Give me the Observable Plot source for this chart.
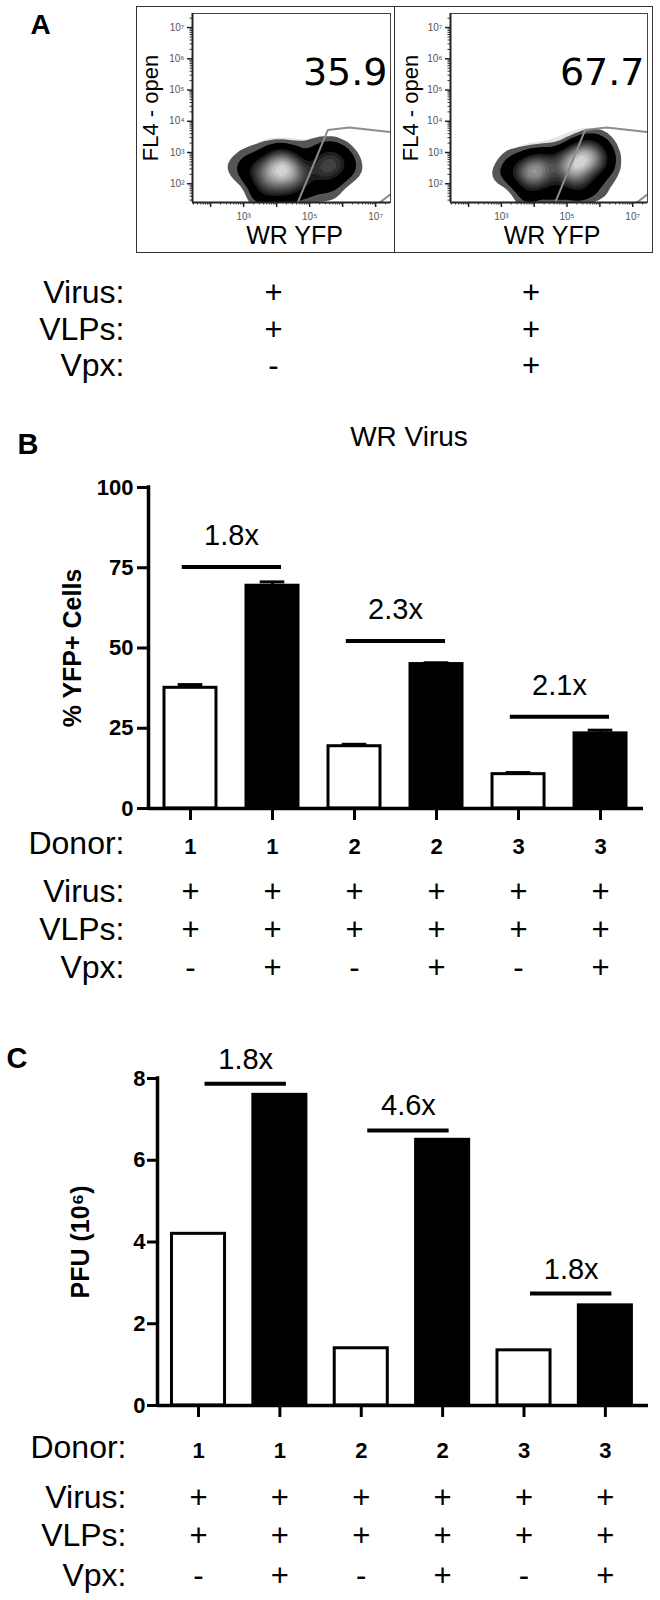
<!DOCTYPE html>
<html><head><meta charset="utf-8">
<script src="https://cdn.jsdelivr.net/npm/d3@7"></script>
<script src="https://cdn.jsdelivr.net/npm/@observablehq/plot@0.6"></script>
<style>
body{margin:0;background:#fff;}
#fig{position:relative;width:660px;height:1600px;overflow:hidden;background:#fff;}
#fig > svg{position:absolute;}
.box{position:absolute;border:1.5px solid #333;box-sizing:border-box;pointer-events:none;}
</style></head><body><div id="fig"></div>
<script>
// ---------------- data ----------------
// Panel A: flow cytometry (log10 coordinates of the cell cloud, relative weight)
const flowPercents = ["35.9", "67.7"];
const flowVirus = ["+", "+"];
const flowVLPs = ["+", "+"];
const flowVpx = ["-", "+"];
const decadeTicks = [1e2, 1e3, 1e4, 1e5, 1e6, 1e7];
const xLabelTicks = [1e3, 1e5, 1e7];
const gateLog = [[4.6, 1.3], [5.55, 3.72], [6.2, 3.8], [7.5, 3.65]];
const gateCornerLog = [[7.0, 1.3], [7.5, 1.7]];
const cloudNoVpx = [
  [3.6, 2.5, 2], [4.0, 2.6, 3], [4.3, 2.4, 3], [3.9, 2.2, 2.5], [4.5, 2.7, 2], [3.3, 2.3, 1.2],
  [4.1, 2.9, 1.5], [3.7, 1.9, 1.5], [4.4, 2.0, 2], [3.1, 2.6, 0.7], [4.7, 2.3, 1.5],
  [3.5, 1.6, 1], [4.2, 1.6, 1.2], [4.9, 1.7, 0.8], [5.6, 1.7, 0.6],
  [2.7, 2.4, 0.35], [2.4, 2.7, 0.2], [3.0, 3.1, 0.25], [3.5, 3.3, 0.3],
  [5.4, 2.5, 1.5], [5.7, 2.7, 1.6], [6.0, 2.5, 1.1], [5.6, 2.2, 1.2], [5.9, 3.0, 0.8],
  [5.2, 2.8, 1], [6.3, 2.7, 0.45], [5.5, 3.2, 0.6], [5.0, 2.2, 1], [6.5, 2.3, 0.2], [4.9, 3.4, 0.3]
];
const cloudVpx = [
  [3.7, 2.5, 1.5], [4.0, 2.4, 2], [4.3, 2.6, 1.5], [3.9, 2.1, 1.5], [3.4, 2.3, 0.8], [4.4, 2.2, 1.2],
  [4.1, 2.8, 0.8], [3.1, 2.5, 0.4], [2.8, 2.2, 0.25], [3.3, 3.0, 0.3],
  [3.8, 1.6, 0.9], [4.6, 1.7, 0.9], [5.3, 1.7, 1], [6.0, 1.8, 0.5],
  [5.1, 2.7, 2], [5.4, 2.9, 2.5], [5.7, 2.8, 2.2], [5.3, 2.4, 2], [5.6, 3.2, 1.2], [5.9, 2.6, 1.5],
  [6.1, 3.1, 0.7], [4.8, 2.8, 1.2], [5.0, 2.3, 1.5], [6.3, 2.8, 0.45], [5.5, 2.1, 1.2], [6.0, 3.5, 0.3], [6.4, 2.3, 0.25]
];
const rowNames = ["Virus:", "VLPs:", "Vpx:"];

// Panels B and C
const donors = [1, 1, 2, 2, 3, 3];
const virusRow = ["+", "+", "+", "+", "+", "+"];
const vlpRow = ["+", "+", "+", "+", "+", "+"];
const vpxRow = ["-", "+", "-", "+", "-", "+"];
const yfpPct = [37.6, 69.4, 19.4, 45.0, 10.7, 23.4];
const yfpSem = [1.0, 1.2, 0.6, 0.4, 0.5, 1.0];
const yfpTicks = [0, 25, 50, 75, 100];
const foldPairs = [[0, 1], [2, 3], [4, 5]];
const yfpFoldLabels = ["1.8x", "2.3x", "2.1x"];
const yfpFoldLevels = [75.2, 52.2, 28.6];
const pfu = [4.2, 7.6, 1.4, 6.5, 1.35, 2.45];
const pfuTicks = [0, 2, 4, 6, 8];
const pfuFoldLabels = ["1.8x", "4.6x", "1.8x"];
const pfuFoldLevels = [7.87, 6.73, 2.74];

// ---------------- drawing ----------------
const FONT = '"Liberation Sans", Arial, Helvetica, sans-serif';
const SUP = "⁰¹²³⁴⁵⁶⁷⁸⁹";
const pow10 = v => "10" + String(Math.round(Math.log10(v))).split("").map(c => SUP[+c]).join("");
const fig = document.getElementById("fig");
const baseStyle = {fontFamily: FONT, color: "#000", background: "transparent", overflow: "visible"};

function place(svg, left, top) {
  svg.style.left = left + "px";
  svg.style.top = top + "px";
  fig.appendChild(svg);
}

function flowPanel(k, left, width, ml, mr) {
  const H = 392, mt = 13, mb = 190;
  const cloud = (k === 0 ? cloudNoVpx : cloudVpx).map(([lx, ly, w]) => ({x: 10 ** lx, y: 10 ** ly, w}));
  const gate = gateLog.map(([lx, ly]) => ({x: 10 ** lx, y: 10 ** ly}));
  const corner = gateCornerLog.map(([lx, ly]) => ({x: 10 ** lx, y: 10 ** ly}));
  const xd = [10 ** 1.45, 10 ** 7.45], yd = [10 ** 1.4, 10 ** 7.45];
  const minor = [];
  for (let e = 1; e <= 7; e++) for (let m = 2; m <= 9; m++) {
    const v = m * 10 ** e;
    if (v > yd[0] && v < xd[1]) minor.push(v);
  }
  const marks = [];
  if (Plot.density) {
    marks.push(Plot.density(cloud, {x: "x", y: "y", weight: "w", bandwidth: 13, thresholds: 6, fill: "#000", fillOpacity: 0.1, clip: true}));
    marks.push(Plot.density(cloud, {x: "x", y: "y", weight: "w", bandwidth: 8, thresholds: 16, fill: "density", clip: true}));
  } else {
    marks.push(Plot.dot(cloud, {x: "x", y: "y", r: d => 4 + d.w * 3, fill: "#222", fillOpacity: 0.5}));
  }
  marks.push(
    Plot.line(gate, {x: "x", y: "y", stroke: "#8c8c8c", strokeWidth: 2, clip: true}),
    Plot.line(corner, {x: "x", y: "y", stroke: "#8c8c8c", strokeWidth: 2, clip: true}),
    Plot.frame({stroke: "#444", strokeWidth: 1}),
    Plot.ruleX([xd[0]], {stroke: "#222", strokeWidth: 2}),
    Plot.ruleY([yd[0]], {stroke: "#222", strokeWidth: 2}),
    Plot.axisY(minor, {tickSize: 2.5, stroke: "#333", fill: "none"}),
    Plot.axisY(decadeTicks, {tickSize: 5, tickPadding: 3, stroke: "#222", strokeWidth: 1.5, fill: "#555", fontSize: 10, tickFormat: pow10}),
    Plot.axisX(minor, {tickSize: 2.5, stroke: "#333", fill: "none"}),
    Plot.axisX(decadeTicks, {tickSize: 5, stroke: "#222", strokeWidth: 1.5, fill: "none"}),
    Plot.axisX(xLabelTicks, {tickSize: 0, tickPadding: 10, fill: "#555", fontSize: 10, tickFormat: pow10}),
    Plot.text([flowPercents[k]], {frameAnchor: "top-right", textAnchor: "end", lineAnchor: "bottom", dx: -3, dy: 71, fontSize: 38, fontFamily: '"DejaVu Sans", sans-serif'}),
    Plot.text(["WR YFP"], {frameAnchor: "bottom", lineAnchor: "bottom", dy: 41, dx: 3, fontSize: 25}),
    Plot.text(["FL4 - open"], {frameAnchor: "left", rotate: -90, dx: k === 0 ? -42 : -40, fontSize: 22, textAnchor: "middle", lineAnchor: "middle"})
  );
  const rowVals = [flowVirus, flowVLPs, flowVpx];
  const rowDy = [100, 137, 173];
  rowVals.forEach((vals, r) => {
    marks.push(Plot.text([vals[k]], {frameAnchor: "bottom", lineAnchor: "bottom", dx: -18, dy: rowDy[r], fontSize: 31}));
    if (k === 0) marks.push(Plot.text([rowNames[r]], {frameAnchor: "bottom-left", textAnchor: "end", lineAnchor: "bottom", dx: -68, dy: rowDy[r], fontSize: 32}));
  });
  if (k === 0) marks.push(Plot.text(["A"], {frameAnchor: "top-left", textAnchor: "start", lineAnchor: "bottom", dx: -162, dy: 20, fontSize: 28, fontWeight: "bold"}));
  const svg = Plot.plot({
    width, height: H, marginLeft: ml, marginRight: mr, marginTop: mt, marginBottom: mb,
    x: {type: "log", domain: xd, label: null},
    y: {type: "log", domain: yd, label: null},
    color: {type: "linear", interpolate: t => t < 0.08 ? "#555" : t < 0.3 ? "#000" : d3.interpolateRgb("#141414", "#d2d2d2")((t - 0.3) / 0.7)},
    style: baseStyle,
    marks
  });
  place(svg, left, 0);
}

function barPanel(cfg) {
  const rows = donors.map((d, i) => ({i, donor: d, value: cfg.values[i], sem: cfg.sem ? cfg.sem[i] : 0,
    virus: virusRow[i], vlp: vlpRow[i], vpx: vpxRow[i]}));
  const folds = foldPairs.map(([a, b], j) => ({a, b, label: cfg.foldLabels[j], level: cfg.foldLevels[j]}));
  const h = cfg.barHalf;
  const marks = [];
  if (cfg.sem) {
    marks.push(
      Plot.ruleX(rows, {x: "i", y1: "value", y2: d => d.value + d.sem, strokeWidth: 3}),
      Plot.ruleY(rows, {y: d => d.value + d.sem, x1: d => d.i - 0.15, x2: d => d.i + 0.15, strokeWidth: 3})
    );
  }
  marks.push(
    Plot.rect(rows.filter(d => d.vpx === "-"), {x1: d => d.i - h, x2: d => d.i + h, y1: 0, y2: "value", fill: "#fff", stroke: "#000", strokeWidth: 3}),
    Plot.rect(rows.filter(d => d.vpx === "+"), {x1: d => d.i - h, x2: d => d.i + h, y1: 0, y2: "value", fill: "#000", stroke: "#000", strokeWidth: 3}),
    Plot.ruleX([cfg.xDomain[0]], {y1: cfg.yDomain[0], y2: cfg.yDomain[1], strokeWidth: 3.5, strokeLinecap: "square"}),
    Plot.ruleY([0], {strokeWidth: 3.5}),
    Plot.axisY(cfg.ticks, {tickSize: cfg.tickSize, tickPadding: cfg.tickPadding, strokeWidth: 3, fontSize: 22, fontWeight: "bold", color: "#000"}),
    Plot.axisX(rows.map(d => d.i), {tickSize: 12, strokeWidth: 3, stroke: "#000", fill: "none"}),
    Plot.ruleY(folds, {y: "level", x1: d => d.a + cfg.foldOff[0], x2: d => d.b + cfg.foldOff[1], strokeWidth: 4}),
    Plot.text(folds, {x: d => (d.a + d.b) / 2 + cfg.foldOff[2], y: "level", text: "label", dy: cfg.foldDy, lineAnchor: "bottom", fontSize: 29}),
    Plot.text([cfg.yTitle], {frameAnchor: "left", rotate: -90, dx: cfg.yTitleDx, fontSize: 25, fontWeight: "bold", textAnchor: "middle", lineAnchor: "middle"}),
    Plot.text([cfg.letter], {frameAnchor: "top-left", textAnchor: "start", lineAnchor: "bottom", dx: cfg.letterPos[0], dy: cfg.letterPos[1], fontSize: 29, fontWeight: "bold"}),
    Plot.text(rows, {x: "i", text: d => String(d.donor), frameAnchor: "bottom", lineAnchor: "bottom", dy: cfg.rowDy[0], fontSize: 22, fontWeight: "bold"}),
    Plot.text(rows, {x: "i", text: "virus", frameAnchor: "bottom", lineAnchor: "bottom", dy: cfg.rowDy[1], fontSize: 31}),
    Plot.text(rows, {x: "i", text: "vlp", frameAnchor: "bottom", lineAnchor: "bottom", dy: cfg.rowDy[2], fontSize: 31}),
    Plot.text(rows, {x: "i", text: "vpx", frameAnchor: "bottom", lineAnchor: "bottom", dy: cfg.rowDy[3], fontSize: 31})
  );
  ["Donor:", ...rowNames].forEach((name, r) => {
    marks.push(Plot.text([name], {frameAnchor: "bottom-left", textAnchor: "end", lineAnchor: "bottom", dx: cfg.rowLabelDx, dy: cfg.rowDy[r], fontSize: 32}));
  });
  if (cfg.title) marks.push(Plot.text([cfg.title], {frameAnchor: "top", lineAnchor: "bottom", dx: cfg.titlePos[0], dy: cfg.titlePos[1], fontSize: 28}));
  const svg = Plot.plot({
    width: 660, height: cfg.height,
    marginLeft: cfg.m[0], marginRight: cfg.m[1], marginTop: cfg.m[2], marginBottom: cfg.m[3],
    x: {domain: cfg.xDomain, label: null},
    y: {domain: cfg.yDomain, label: null},
    style: baseStyle,
    marks
  });
  place(svg, 0, cfg.top);
}

flowPanel(0, 0, 395, 192, 5);
flowPanel(1, 395, 265, 55, 13);
for (const [l, w] of [[136, 259], [394, 259]]) {
  const b = document.createElement("div");
  b.className = "box";
  Object.assign(b.style, {left: l + "px", top: "6px", width: w + "px", height: "247px"});
  fig.appendChild(b);
}

barPanel({
  top: 400, height: 590, m: [148, 17, 87, 182],
  xDomain: [-0.512, 5.524], yDomain: [0, 100],
  values: yfpPct, sem: yfpSem, ticks: yfpTicks, tickSize: 11, tickPadding: 4,
  barHalf: 0.317, foldLabels: yfpFoldLabels, foldLevels: yfpFoldLevels,
  foldOff: [-0.1, 0.11, 0], foldDy: -22,
  yTitle: "% YFP+ Cells", yTitleDx: -76,
  letter: "B", letterPos: [-131, -34],
  title: "WR Virus", titlePos: [13, -42],
  rowDy: [45, 93, 131, 169], rowLabelDx: -24
});

barPanel({
  top: 1000, height: 600, m: [157, 12, 78, 195],
  xDomain: [-0.504, 5.53], yDomain: [0, 8],
  values: pfu, sem: null, ticks: pfuTicks, tickSize: 10, tickPadding: 2,
  barHalf: 0.326, foldLabels: pfuFoldLabels, foldLevels: pfuFoldLevels,
  foldOff: [0.08, 0.08, 0.08], foldDy: -15,
  yTitle: "PFU (10⁶)", yTitleDx: -77,
  letter: "C", letterPos: [-151, -11],
  title: null,
  rowDy: [52, 102, 140, 180], rowLabelDx: -31
});
</script></body></html>
